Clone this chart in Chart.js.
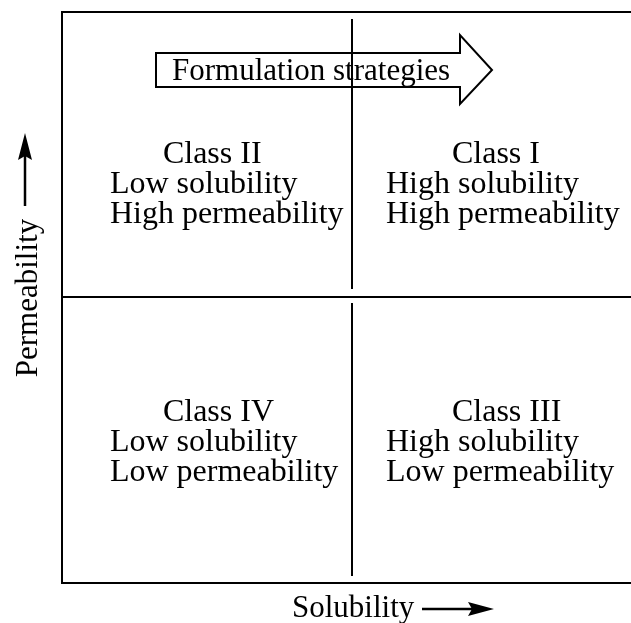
<!DOCTYPE html>
<html>
<head>
<meta charset="utf-8">
<script src="https://cdn.jsdelivr.net/npm/chart.js@4"></script>
<style>
  html, body { margin: 0; padding: 0; background: #fff; overflow: hidden; }
  #wrap { width: 631px; height: 623px; position: relative; }
</style>
</head>
<body>
<div id="wrap"><canvas id="bcsChart"></canvas></div>
<script>
// BCS quadrants: Class I (top right), II (top left), III (bottom right), IV (bottom left)
const classNames = ['Class I', 'Class II', 'Class III', 'Class IV']
const solubilityText = ['High solubility', 'Low solubility', 'High solubility', 'Low solubility']
const permeabilityText = ['High permeability', 'High permeability', 'Low permeability', 'Low permeability']
const axisTitles = ['Solubility', 'Permeability']
const bannerText = 'Formulation strategies'

// layout only (data units of the hidden scales)
const xMax = 1.96
const yMax = 2
const divider = { x: 1, y: 1 }
const anchorX = [1.116, 0.165, 1.116, 0.165]
const anchorY = [1.471, 1.471, 0.567, 0.567]
const titleIndent = [66, 53, 66, 53]

const FONT = '"Liberation Serif", "Times New Roman", serif'

function arrowHead(ctx, x, y, dir, len, half) {
  ctx.beginPath()
  if (dir === 'up') {
    ctx.moveTo(x, y)
    ctx.lineTo(x - half, y + len)
    ctx.lineTo(x, y + len - 4)
    ctx.lineTo(x + half, y + len)
  } else {
    ctx.moveTo(x, y)
    ctx.lineTo(x - len, y - half)
    ctx.lineTo(x - len + 4, y)
    ctx.lineTo(x - len, y + half)
  }
  ctx.closePath()
  ctx.fill()
}

const bcsPlugin = {
  id: 'bcsDiagram',
  afterDraw(chart) {
    const ctx = chart.ctx
    const { left, right, top, bottom } = chart.chartArea
    const xs = chart.scales.x
    const ys = chart.scales.y
    const midX = Math.round(xs.getPixelForValue(divider.x))
    const midY = Math.round(ys.getPixelForValue(divider.y)) - 1

    ctx.save()
    ctx.strokeStyle = '#000'
    ctx.fillStyle = '#000'
    ctx.lineWidth = 2

    // frame (open on the right side)
    ctx.beginPath()
    ctx.moveTo(right, top)
    ctx.lineTo(left, top)
    ctx.lineTo(left, bottom)
    ctx.lineTo(right, bottom)
    ctx.moveTo(left, midY)
    ctx.lineTo(right, midY)
    ctx.stroke()

    // banner arrow
    const bx0 = 156, bx1 = 460, by0 = 53, by1 = 87, tipX = 492
    ctx.beginPath()
    ctx.moveTo(bx0, by0)
    ctx.lineTo(bx1, by0)
    ctx.lineTo(bx1, 35)
    ctx.lineTo(tipX, (by0 + by1) / 2)
    ctx.lineTo(bx1, 104)
    ctx.lineTo(bx1, by1)
    ctx.lineTo(bx0, by1)
    ctx.closePath()
    ctx.stroke()
    ctx.font = '31px ' + FONT
    ctx.textAlign = 'left'
    ctx.textBaseline = 'alphabetic'
    ctx.fillText(bannerText, 172, 80)

    // vertical divider, with small gaps
    ctx.beginPath()
    ctx.moveTo(midX, top + 7)
    ctx.lineTo(midX, midY - 8)
    ctx.moveTo(midX, midY + 6)
    ctx.lineTo(midX, bottom - 7)
    ctx.stroke()

    // class texts
    const meta = chart.getDatasetMeta(0)
    meta.data.forEach((pt, i) => {
      const x = pt.x, y = pt.y
      ctx.font = '32px ' + FONT
      ctx.fillText(classNames[i], x + titleIndent[i], y)
      ctx.fillText(solubilityText[i], x, y + 30)
      ctx.fillText(permeabilityText[i], x, y + 60)
    })

    // x axis title + arrow
    ctx.font = '31px ' + FONT
    ctx.fillText(axisTitles[0], 292, 617)
    ctx.lineWidth = 2.5
    ctx.beginPath()
    ctx.moveTo(422, 609)
    ctx.lineTo(476, 609)
    ctx.stroke()
    arrowHead(ctx, 494, 609, 'right', 26, 7)

    // y axis title + arrow
    ctx.save()
    ctx.translate(37, 298)
    ctx.rotate(-Math.PI / 2)
    ctx.textAlign = 'center'
    ctx.fillText(axisTitles[1], 0, 0)
    ctx.restore()
    ctx.beginPath()
    ctx.moveTo(25, 206)
    ctx.lineTo(25, 152)
    ctx.stroke()
    arrowHead(ctx, 25, 133, 'up', 27, 7)

    ctx.restore()
  }
}

new Chart(document.getElementById('bcsChart'), {
  type: 'scatter',
  data: {
    datasets: [
      {
        data: classNames.map((_, i) => ({ x: anchorX[i], y: anchorY[i] })),
        pointRadius: 0,
        pointHoverRadius: 0
      }
    ]
  },
  options: {
    responsive: true,
    maintainAspectRatio: false,
    animation: false,
    events: [],
    layout: { padding: { left: 62, top: 12, right: 0, bottom: 40 } },
    scales: {
      x: { type: 'linear', min: 0, max: xMax, display: false },
      y: { type: 'linear', min: 0, max: yMax, display: false }
    },
    plugins: {
      legend: { display: false },
      tooltip: { enabled: false }
    }
  },
  plugins: [bcsPlugin]
})
</script>
</body>
</html>
